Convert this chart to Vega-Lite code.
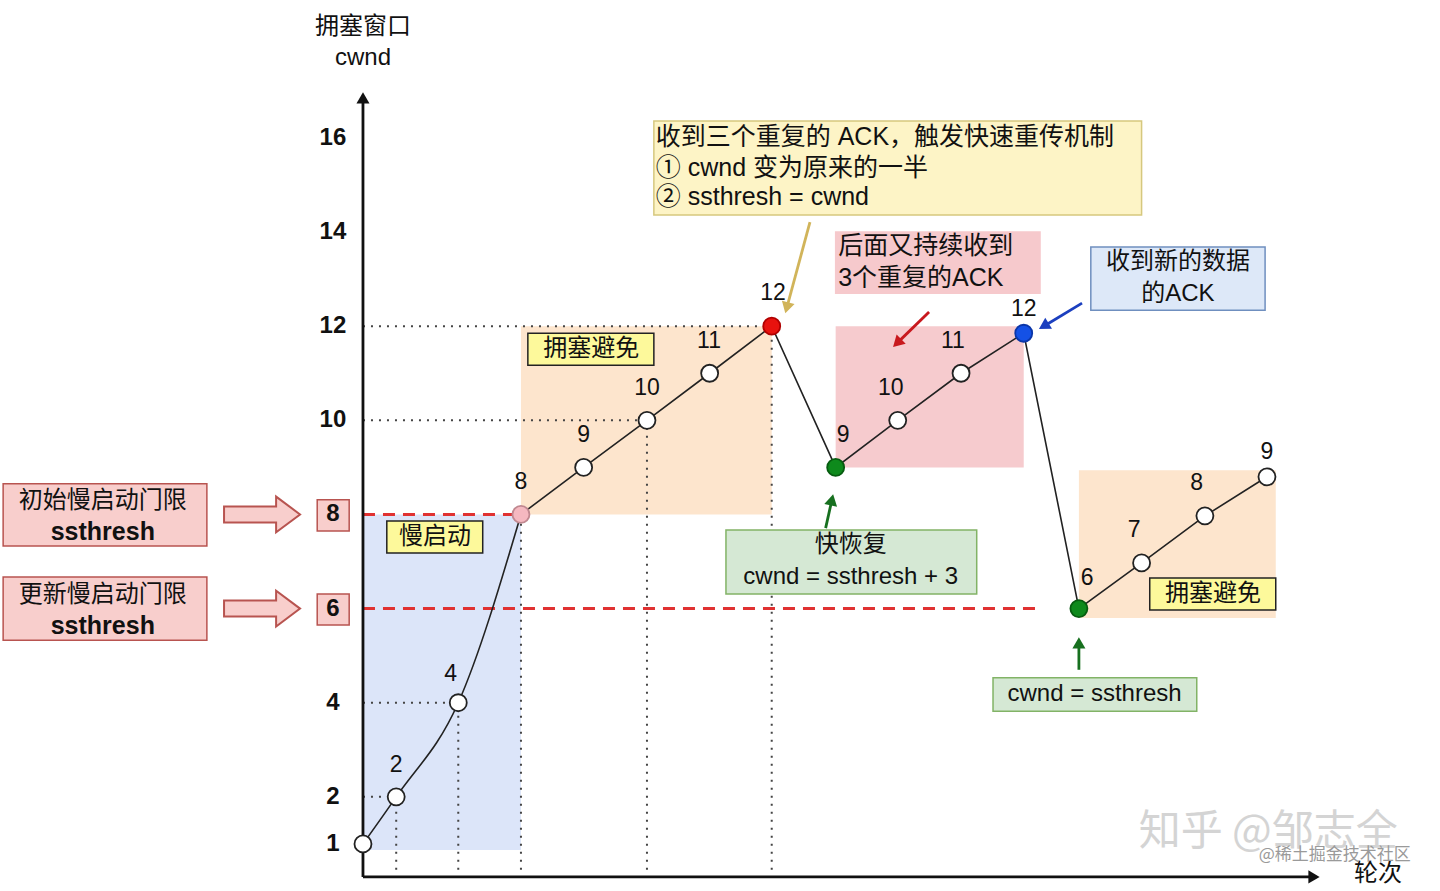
{
  "$schema": "https://vega.github.io/schema/vega-lite/v6.json",
  "width": 1440,
  "height": 891,
  "autosize": {"type": "none"},
  "padding": 0,
  "background": "white",
  "config": {"view": {"stroke": null}},
  "resolve": {"scale": {"color": "independent", "fill": "independent", "stroke": "independent"}},
  "datasets": {
    "shade": [
      {"kind": "slow", "x": 0, "x2": 2.52, "y": 0.87, "y2": 8},
      {"kind": "avoid", "x": 2.52, "x2": 6.52, "y": 8, "y2": 12},
      {"kind": "recover", "x": 7.54, "x2": 10.54, "y": 9, "y2": 12},
      {"kind": "avoid", "x": 11.42, "x2": 14.56, "y": 5.8, "y2": 8.94}
    ],
    "boxes": [
      {"kind": "tag", "x": 2.63, "x2": 4.64, "y": 11.17, "y2": 11.85},
      {"kind": "tag", "x": 0.38, "x2": 1.91, "y": 7.18, "y2": 7.86},
      {"kind": "tag", "x": 12.55, "x2": 14.56, "y": 5.97, "y2": 6.65},
      {"kind": "note", "x": 4.64, "x2": 12.42, "y": 14.36, "y2": 16.36},
      {"kind": "dup", "x": 7.54, "x2": 10.8, "y": 12.7, "y2": 14.0},
      {"kind": "newack", "x": 11.61, "x2": 14.39, "y": 12.34, "y2": 13.68},
      {"kind": "fast", "x": 5.79, "x2": 9.79, "y": 6.31, "y2": 7.67},
      {"kind": "fast", "x": 10.05, "x2": 13.3, "y": 3.82, "y2": 4.53},
      {"kind": "thresh", "x": -5.74, "x2": -2.49, "y": 7.33, "y2": 8.65},
      {"kind": "thresh", "x": -5.74, "x2": -2.49, "y": 5.33, "y2": 6.67},
      {"kind": "thresh", "x": -0.73, "x2": -0.22, "y": 7.65, "y2": 8.31},
      {"kind": "thresh", "x": -0.73, "x2": -0.22, "y": 5.65, "y2": 6.31}
    ],
    "guides": [
      {"x": 0, "x2": 6.52, "y": 12, "y2": 12},
      {"x": 0, "x2": 4.53, "y": 10, "y2": 10},
      {"x": 0, "x2": 1.52, "y": 4, "y2": 4},
      {"x": 0, "x2": 0.53, "y": 2, "y2": 2},
      {"x": 0.53, "x2": 0.53, "y": 0.45, "y2": 2},
      {"x": 1.52, "x2": 1.52, "y": 0.45, "y2": 4},
      {"x": 2.52, "x2": 2.52, "y": 0.45, "y2": 8},
      {"x": 4.53, "x2": 4.53, "y": 0.45, "y2": 10},
      {"x": 6.52, "x2": 6.52, "y": 0.45, "y2": 12}
    ],
    "thresholds": [
      {"x": 0, "x2": 2.52, "y": 8, "y2": 8},
      {"x": 0, "x2": 10.8, "y": 6, "y2": 6}
    ],
    "blockarrows": [
      {"x": -1.61, "y": 8},
      {"x": -1.61, "y": 6}
    ],
    "arrows": [
      {"kind": "gold", "x": 7.13, "y": 14.21, "x2": 6.76, "y2": 12.39},
      {"kind": "red", "x": 9.03, "y": 12.3, "x2": 8.52, "y2": 11.64},
      {"kind": "blue", "x": 11.47, "y": 12.49, "x2": 10.86, "y2": 12.0},
      {"kind": "green", "x": 7.38, "y": 7.71, "x2": 7.48, "y2": 8.31},
      {"kind": "green", "x": 11.42, "y": 4.7, "x2": 11.42, "y2": 5.27},
      {"kind": "axis", "x": 0, "y": 0.3, "x2": 0, "y2": 16.85},
      {"kind": "axis", "x": 0, "y": 0.3, "x2": 15.17, "y2": 0.3}
    ],
    "cwnd": [
      {"x": 0, "y": 1, "seg": "slow", "state": "normal"},
      {"x": 0.53, "y": 2, "seg": "slow", "state": "normal"},
      {"x": 1.52, "y": 4, "seg": "slow", "state": "normal"},
      {"x": 2.52, "y": 8, "seg": "both", "state": "threshold"},
      {"x": 3.52, "y": 9, "seg": "line", "state": "normal"},
      {"x": 4.53, "y": 10, "seg": "line", "state": "normal"},
      {"x": 5.53, "y": 11, "seg": "line", "state": "normal"},
      {"x": 6.52, "y": 12, "seg": "line", "state": "loss"},
      {"x": 7.54, "y": 9, "seg": "line", "state": "recovery"},
      {"x": 8.53, "y": 10, "seg": "line", "state": "normal"},
      {"x": 9.54, "y": 11, "seg": "line", "state": "normal"},
      {"x": 10.54, "y": 11.85, "seg": "line", "state": "newack"},
      {"x": 11.42, "y": 6, "seg": "line", "state": "recovery"},
      {"x": 12.42, "y": 6.97, "seg": "line", "state": "normal"},
      {"x": 13.43, "y": 7.97, "seg": "line", "state": "normal"},
      {"x": 14.42, "y": 8.8, "seg": "line", "state": "normal"}
    ],
    "ptlabels": [
      {"t": "2", "x": 0.53, "y": 2.68},
      {"t": "4", "x": 1.4, "y": 4.61},
      {"t": "8", "x": 2.52, "y": 8.69},
      {"t": "9", "x": 3.52, "y": 9.69},
      {"t": "10", "x": 4.53, "y": 10.69},
      {"t": "11", "x": 5.52, "y": 11.68},
      {"t": "12", "x": 6.54, "y": 12.7},
      {"t": "9", "x": 7.66, "y": 9.69},
      {"t": "10", "x": 8.42, "y": 10.69},
      {"t": "11", "x": 9.41, "y": 11.68},
      {"t": "12", "x": 10.54, "y": 12.36},
      {"t": "6", "x": 11.55, "y": 6.65},
      {"t": "7", "x": 12.3, "y": 7.67},
      {"t": "8", "x": 13.3, "y": 8.67},
      {"t": "9", "x": 14.42, "y": 9.33}
    ],
    "ylabels": [
      {"t": "16", "x": -0.48, "y": 16},
      {"t": "14", "x": -0.48, "y": 14},
      {"t": "12", "x": -0.48, "y": 12},
      {"t": "10", "x": -0.48, "y": 10},
      {"t": "8", "x": -0.48, "y": 8},
      {"t": "6", "x": -0.48, "y": 6},
      {"t": "4", "x": -0.48, "y": 4},
      {"t": "2", "x": -0.48, "y": 2},
      {"t": "1", "x": -0.48, "y": 1}
    ],
    "boxtext": [
      {"t": "拥塞避免", "x": 3.64, "y": 11.51, "grp": "c"},
      {"t": "慢启动", "x": 1.15, "y": 7.52, "grp": "c"},
      {"t": "拥塞避免", "x": 13.56, "y": 6.31, "grp": "c"},
      {"t": "收到三个重复的 ACK，触发快速重传机制", "x": 4.67, "y": 16.02, "grp": "l"},
      {"t": "① cwnd 变为原来的一半", "x": 4.67, "y": 15.36, "grp": "l"},
      {"t": "② ssthresh = cwnd", "x": 4.67, "y": 14.74, "grp": "l"},
      {"t": "后面又持续收到", "x": 7.58, "y": 13.7, "grp": "l"},
      {"t": "3个重复的ACK", "x": 7.58, "y": 13.02, "grp": "l"},
      {"t": "收到新的数据", "x": 13.0, "y": 13.36, "grp": "c"},
      {"t": "的ACK", "x": 13.0, "y": 12.68, "grp": "c"},
      {"t": "快恢复", "x": 7.78, "y": 7.35, "grp": "c"},
      {"t": "cwnd = ssthresh + 3", "x": 7.78, "y": 6.67, "grp": "c"},
      {"t": "cwnd = ssthresh", "x": 11.67, "y": 4.19, "grp": "c"},
      {"t": "初始慢启动门限", "x": -4.15, "y": 8.29, "grp": "c"},
      {"t": "ssthresh", "x": -4.15, "y": 7.63, "grp": "b"},
      {"t": "更新慢启动门限", "x": -4.15, "y": 6.29, "grp": "c"},
      {"t": "ssthresh", "x": -4.15, "y": 5.63, "grp": "b"},
      {"t": "拥塞窗口", "x": 0, "y": 18.36, "grp": "c"},
      {"t": "cwnd", "x": 0, "y": 17.7, "grp": "c"},
      {"t": "轮次", "x": 16.19, "y": 0.36, "grp": "c"}
    ],
    "wm": [
      {"t": "知乎 @邹志全", "x": 14.44, "y": 1.25, "grp": "big"},
      {"t": "@稀土掘金技术社区", "x": 15.5, "y": 0.77, "grp": "small"}
    ]
  },
  "encoding": {
    "x": {"field": "x", "type": "quantitative", "scale": {"domain": [-5.79, 17.18], "nice": false, "zero": false}, "axis": null},
    "y": {"field": "y", "type": "quantitative", "scale": {"domain": [0, 18.93], "nice": false, "zero": false}, "axis": null}
  },
  "layer": [
    {
      "data": {"name": "shade"},
      "mark": {"type": "rect"},
      "encoding": {
        "x2": {"field": "x2"},
        "y2": {"field": "y2"},
        "color": {"field": "kind", "type": "nominal", "scale": {"domain": ["slow", "avoid", "recover"], "range": ["#dce5f9", "#fde5cd", "#f6cbce"]}, "legend": null}
      }
    },
    {
      "data": {"name": "guides"},
      "mark": {"type": "rule", "strokeDash": [2, 6], "color": "#444444", "strokeWidth": 2},
      "encoding": {"x2": {"field": "x2"}, "y2": {"field": "y2"}}
    },
    {
      "data": {"name": "thresholds"},
      "mark": {"type": "rule", "strokeDash": [12, 8], "color": "#e03131", "strokeWidth": 3},
      "encoding": {"x2": {"field": "x2"}, "y2": {"field": "y2"}}
    },
    {
      "data": {"name": "boxes"},
      "mark": {"type": "rect", "strokeWidth": 1.5},
      "encoding": {
        "x2": {"field": "x2"},
        "y2": {"field": "y2"},
        "fill": {"field": "kind", "type": "nominal", "scale": {"domain": ["tag", "note", "dup", "newack", "fast", "thresh"], "range": ["#fdf99b", "#fdf4c6", "#f6c9cc", "#dde8f8", "#d5e8d4", "#f8cecc"]}, "legend": null},
        "stroke": {"field": "kind", "type": "nominal", "scale": {"domain": ["tag", "note", "dup", "newack", "fast", "thresh"], "range": ["#222222", "#d6c87e", "#f6c9cc", "#6f8fbf", "#82b366", "#b85450"]}, "legend": null}
      }
    },
    {
      "data": {"name": "blockarrows"},
      "mark": {"type": "point", "shape": "M-1,-0.21L0.37,-0.21L0.37,-0.47L1,0L0.37,0.47L0.37,0.21L-1,0.21Z", "size": 5776, "filled": true, "fill": "#f8cecc", "stroke": "#b85450", "strokeWidth": 2, "opacity": 1}
    },
    {
      "data": {"name": "arrows"},
      "mark": {"type": "rule", "strokeWidth": 2.8},
      "encoding": {
        "x2": {"field": "x2"},
        "y2": {"field": "y2"},
        "color": {"field": "kind", "type": "nominal", "scale": {"domain": ["axis", "gold", "red", "blue", "green"], "range": ["#111111", "#d1b45a", "#c8191e", "#1b3fbf", "#17701f"]}, "legend": null}
      }
    },
    {
      "data": {"name": "arrows"},
      "transform": [{"calculate": "atan2((datum.x2 - datum.x) * 62.7, (datum.y2 - datum.y) * 47.07) * 180 / PI", "as": "ang"}],
      "mark": {"type": "point", "shape": "triangle-up", "filled": true, "opacity": 1, "size": 170},
      "encoding": {
        "x": {"field": "x2", "type": "quantitative"},
        "y": {"field": "y2", "type": "quantitative"},
        "angle": {"field": "ang", "type": "quantitative", "scale": null},
        "color": {"field": "kind", "type": "nominal", "scale": {"domain": ["axis", "gold", "red", "blue", "green"], "range": ["#111111", "#d1b45a", "#c8191e", "#1b3fbf", "#17701f"]}, "legend": null}
      }
    },
    {
      "data": {"name": "cwnd"},
      "transform": [{"filter": "datum.seg !== 'line'"}],
      "mark": {"type": "line", "interpolate": "monotone", "color": "#222222", "strokeWidth": 1.6}
    },
    {
      "data": {"name": "cwnd"},
      "transform": [{"filter": "datum.seg !== 'slow'"}],
      "mark": {"type": "line", "color": "#222222", "strokeWidth": 1.6}
    },
    {
      "data": {"name": "cwnd"},
      "mark": {"type": "point", "shape": "circle", "filled": true, "opacity": 1, "size": 289, "strokeWidth": 1.8},
      "encoding": {
        "fill": {"field": "state", "type": "nominal", "scale": {"domain": ["normal", "threshold", "loss", "recovery", "newack"], "range": ["#ffffff", "#f5b8c0", "#e8120e", "#0e8a1c", "#1451e6"]}, "legend": null},
        "stroke": {"field": "state", "type": "nominal", "scale": {"domain": ["normal", "threshold", "loss", "recovery", "newack"], "range": ["#222222", "#c08890", "#b00000", "#075c10", "#0b36a8"]}, "legend": null}
      }
    },
    {
      "data": {"name": "ptlabels"},
      "mark": {"type": "text", "font": "'Liberation Sans', 'Noto Sans CJK SC', sans-serif", "fontSize": 23, "color": "#111111", "align": "center", "baseline": "middle"},
      "encoding": {"text": {"field": "t"}}
    },
    {
      "data": {"name": "ylabels"},
      "mark": {"type": "text", "font": "'Liberation Sans', 'Noto Sans CJK SC', sans-serif", "fontSize": 24, "fontWeight": "bold", "color": "#111111", "align": "center", "baseline": "middle"},
      "encoding": {"text": {"field": "t"}}
    },
    {
      "data": {"name": "boxtext"},
      "transform": [{"filter": "datum.grp === 'c'"}],
      "mark": {"type": "text", "font": "'Liberation Sans', 'Noto Sans CJK SC', sans-serif", "fontSize": 24, "color": "#111111", "align": "center", "baseline": "middle"},
      "encoding": {"text": {"field": "t"}}
    },
    {
      "data": {"name": "boxtext"},
      "transform": [{"filter": "datum.grp === 'b'"}],
      "mark": {"type": "text", "font": "'Liberation Sans', 'Noto Sans CJK SC', sans-serif", "fontSize": 25, "fontWeight": "bold", "color": "#111111", "align": "center", "baseline": "middle"},
      "encoding": {"text": {"field": "t"}}
    },
    {
      "data": {"name": "boxtext"},
      "transform": [{"filter": "datum.grp === 'l'"}],
      "mark": {"type": "text", "font": "'Liberation Sans', 'Noto Sans CJK SC', sans-serif", "fontSize": 25, "color": "#111111", "align": "left", "baseline": "middle"},
      "encoding": {"text": {"field": "t"}}
    },
    {
      "data": {"name": "wm"},
      "transform": [{"filter": "datum.grp === 'big'"}],
      "mark": {"type": "text", "font": "'Noto Sans CJK SC', sans-serif", "fontSize": 42, "color": "#d4d4d4", "align": "center", "baseline": "middle"},
      "encoding": {"text": {"field": "t"}}
    },
    {
      "data": {"name": "wm"},
      "transform": [{"filter": "datum.grp === 'small'"}],
      "mark": {"type": "text", "font": "'Noto Sans CJK SC', sans-serif", "fontSize": 17, "color": "#9a9a9a", "align": "center", "baseline": "middle"},
      "encoding": {"text": {"field": "t"}}
    }
  ]
}
